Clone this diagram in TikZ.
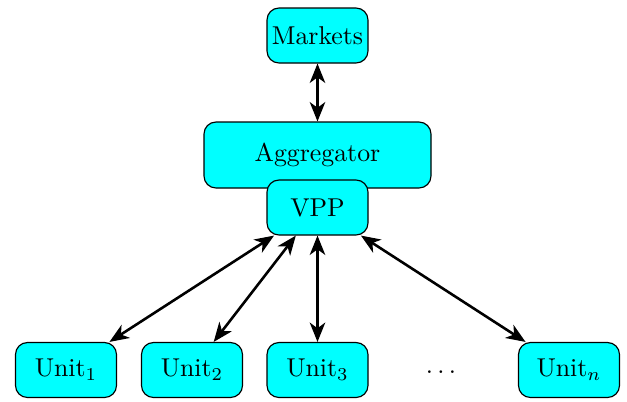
\documentclass[tikz,border=0pt]{standalone}
\usetikzlibrary{arrows.meta}
\definecolor{boxcyan}{RGB}{0,255,255}
\newlength\pxu
\setlength\pxu{0.3876pt}
\begin{document}
\begin{tikzpicture}[x=\pxu,y=-\pxu,
  box/.style={draw=black,fill=boxcyan,rounded corners=12\pxu,line width=0.45pt,
    inner sep=0pt,minimum width=101\pxu,minimum height=55\pxu},
  link/.style={line width=1pt,{Stealth[length=7.5pt,width=6pt,inset=2.2pt]}-{Stealth[length=7.5pt,width=6pt,inset=2.2pt]}}]
\useasboundingbox (0,0) rectangle (627,401);
\node[box] (mk) at (317.5,35.5) {Markets};
\node[box,minimum width=227\pxu,minimum height=66\pxu] (ag) at (317.5,155) {\raisebox{3\pxu}{Aggregator}};
\node[box] (vpp) at (317.5,207.5) {VPP};
\node[box] (u1) at (66,370) {Unit$_1$};
\node[box] (u2) at (192,370) {Unit$_2$};
\node[box] (u3) at (317.5,370) {Unit$_3$};
\node (dots) at (441,372) {$\dots$};
\node[box] (un) at (569,370) {Unit$_n$};
\draw[link] (mk) -- (ag);
\draw[link] (vpp) -- (u1);
\draw[link] (vpp) -- (u2);
\draw[link] (vpp) -- (u3);
\draw[link] (vpp) -- (un);
\end{tikzpicture}
\end{document}
